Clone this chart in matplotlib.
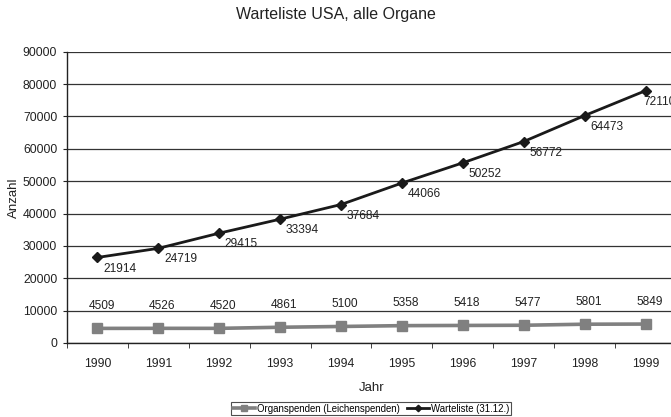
import numpy as np
import matplotlib.pyplot as plt

plt.rcParams['font.family'] = ['Liberation Sans', 'DejaVu Sans']

# Daten
jahre = ['1990', '1991', '1992', '1993', '1994', '1995', '1996', '1997', '1998', '1999']
organspenden = [4509, 4526, 4520, 4861, 5100, 5358, 5418, 5477, 5801, 5849]
warteliste = [21914, 24719, 29415, 33394, 37684, 44066, 50252, 56772, 64473, 72110]

x = np.arange(len(jahre))
# gestapeltes Liniendiagramm: Warteliste liegt auf den Organspenden
gestapelt = np.array(organspenden) + np.array(warteliste)

fig = plt.figure(figsize=(6.71, 4.17), dpi=100)
ax = fig.add_axes([0.0998, 0.1775, 0.9077, 0.6985])

ax.plot(x, organspenden, color='#808080', lw=2.6, marker='s', ms=7.5,
        label='Organspenden (Leichenspenden)')
ax.plot(x, gestapelt, color='#1a1a1a', lw=2.0, marker='D', ms=5.5,
        label='Warteliste (31.12.)')

# Datenbeschriftungen
for xi, v in zip(x, organspenden):
    ax.annotate(str(v), (xi, v), xytext=(3, 16), textcoords='offset points',
                ha='center', va='center', fontsize=8.6, color='#222222')
for xi, y, v in zip(x, gestapelt, warteliste):
    dx = 16 if xi < len(x) - 1 else 10
    ax.annotate(str(v), (xi, y), xytext=(dx, -8), textcoords='offset points',
                ha='center', va='center', fontsize=8.6, color='#222222',
                annotation_clip=False)

ax.set_xlim(-0.5, 9.5)
ax.set_ylim(0, 90000)
ax.set_yticks(np.arange(0, 90001, 10000))
ax.set_yticklabels([str(v) for v in range(0, 90001, 10000)], fontsize=8.8, color='#222222')
ax.set_xticks(x)
ax.set_xticklabels(jahre, fontsize=8.8, color='#222222')
ax.set_xticks(np.arange(-0.5, 10, 1), minor=True)
ax.tick_params(axis='x', which='major', length=0, pad=10.5)
ax.tick_params(axis='x', which='minor', length=3.5, direction='out', color='#222222')
ax.tick_params(axis='y', length=3, color='#222222', pad=4)

ax.grid(axis='y', color='#333333', lw=0.9)
ax.set_axisbelow(True)
for s in ['top', 'right']:
    ax.spines[s].set_visible(False)
for s in ['left', 'bottom']:
    ax.spines[s].set_color('#222222')
    ax.spines[s].set_linewidth(1.0)

ax.set_xlabel('Jahr', fontsize=9.5, color='#222222', labelpad=9)
ax.set_ylabel('Anzahl', fontsize=9.5, color='#222222', labelpad=2)
fig.text(0.5, 1 - 14 / 417, 'Warteliste USA, alle Organe', ha='center', va='center',
         fontsize=11.5, color='#222222')

leg = fig.legend(loc='center', bbox_to_anchor=(0.553, 1 - 408.5 / 417), ncol=2,
                 fontsize=6.9, frameon=True, fancybox=False, handlelength=2.3,
                 handletextpad=0.2, columnspacing=0.8, borderpad=0.2,
                 markerscale=0.6)
leg.get_frame().set_edgecolor('#222222')
leg.get_frame().set_linewidth(0.8)

fig.savefig('out.png', dpi=100)
